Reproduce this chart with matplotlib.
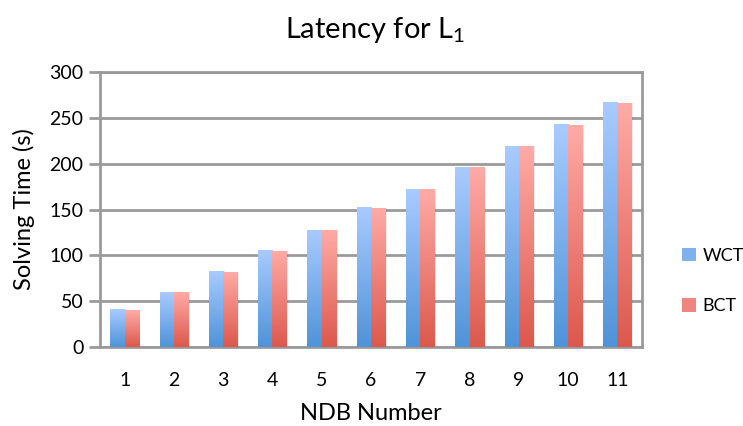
import matplotlib
matplotlib.use("Agg")
import matplotlib.pyplot as plt
import numpy as np
from matplotlib.colors import LinearSegmentedColormap
from matplotlib.patches import Patch

plt.rcParams['font.family'] = ['Lato', 'DejaVu Sans']
plt.rcParams['mathtext.fontset'] = 'custom'
plt.rcParams['mathtext.rm'] = 'Lato'
plt.rcParams['mathtext.it'] = 'Lato'

categories = ['1', '2', '3', '4', '5', '6', '7', '8', '9', '10', '11']
wct = [41, 60, 83, 106, 128, 153, 172, 196, 219, 243, 267]
bct = [40, 60, 82, 105, 128, 152, 172, 196, 219, 242, 266]
series_names = ['WCT', 'BCT']
yticks = [0, 50, 100, 150, 200, 250, 300]

fig = plt.figure(figsize=(7.43, 4.26), dpi=100)
ax = fig.add_axes([0.1346, 0.1854, 0.7295, 0.6455])

x = np.arange(len(categories))
w = 0.29
grid_c = '#9a9a9a'

blue_cmap = LinearSegmentedColormap.from_list('b', ['#4f93d8', '#a9cbff'])
red_cmap = LinearSegmentedColormap.from_list('r', ['#dc584c', '#ffaba7'])
grad = np.linspace(0, 1, 256).reshape(-1, 1)

def grad_bars(positions, vals, cmap, face):
    bars = ax.bar(positions, vals, w, color=face, zorder=3, linewidth=0)
    for b in bars:
        x0, y0 = b.get_x(), b.get_y()
        bw, bh = b.get_width(), b.get_height()
        ax.bar(x0 + bw / 2 + 0.03, bh, bw, bottom=0, color='#000000', alpha=0.08,
               zorder=2.5, linewidth=0)
        im = ax.imshow(grad, cmap=cmap, aspect='auto', origin='lower',
                       extent=[x0, x0 + bw, y0, y0 + bh], zorder=3.5)
        im.set_clip_path(b)
    return bars

grad_bars(x - w / 2, wct, blue_cmap, '#7fb2ec')
grad_bars(x + w / 2, bct, red_cmap, '#ee8580')

ax.set_xlim(-0.5, len(categories) - 0.5)
ax.set_ylim(0, 300)
ax.set_yticks(yticks)
ax.set_xticks(x)
ax.set_xticklabels(categories)
ax.yaxis.grid(True, color=grid_c, linewidth=2, zorder=1)
ax.set_axisbelow(True)
for s in ax.spines.values():
    s.set_color(grid_c)
    s.set_linewidth(2)
ax.tick_params(axis='y', length=8, width=2, color=grid_c, labelsize=14, pad=4)
ax.tick_params(axis='x', length=0, labelsize=14, pad=18)

ax.set_xlabel('NDB Number', fontsize=17, labelpad=10)
ax.set_ylabel('Solving Time (s)', fontsize=17, labelpad=10)
fig.text(0.505, 0.93, 'Latency for L$_1$', fontsize=21, ha='center', va='center')

handles = [Patch(facecolor='#7fb2ec', edgecolor='none'),
           Patch(facecolor='#ee8580', edgecolor='none')]
fig.legend(handles, series_names, loc='center left', bbox_to_anchor=(0.918, 0.34),
           frameon=False, fontsize=13, handlelength=0.75, handleheight=0.75,
           handletextpad=0.4, labelspacing=1.9, borderaxespad=0, borderpad=0)

fig.savefig('out.png', dpi=100)
